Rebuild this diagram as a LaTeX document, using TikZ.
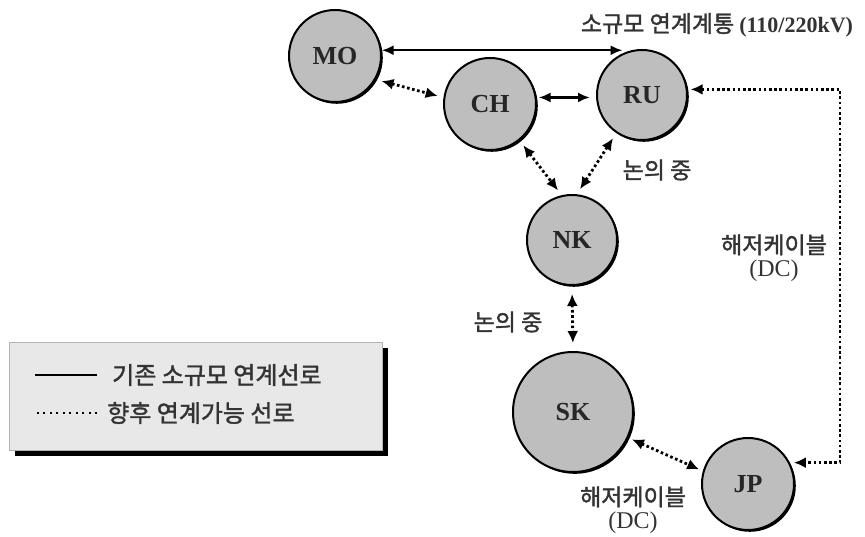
\documentclass[tikz,border=0pt]{standalone}
\usepackage{fontspec}
\setmainfont{Liberation Serif}
\newfontfamily\kr[FakeBold=1.6]{Noto Sans CJK KR}
\usetikzlibrary{arrows.meta, shadows, positioning}

\definecolor{disk}{HTML}{BEBEBE}
\definecolor{panel}{HTML}{E8E8E8}
\definecolor{ink}{HTML}{333333}

\begin{document}
\begin{tikzpicture}[x=1pt, y=-1pt]
    \tikzset{
        nation/.style = {circle, draw=black, fill=disk, line width=2pt, inner sep=0pt, minimum size=92pt,
            font=\fontsize{26}{28}\selectfont\bfseries, text=black!85,
            drop shadow={shadow xshift=1.8pt, shadow yshift=-1.8pt, fill=black, opacity=1}},
        line/.style = {draw=black, line width=2.4pt, {Latex[length=12pt,width=10pt]}-{Latex[length=12pt,width=10pt]}},
        future/.style = {draw=black, line width=2.8pt, dash pattern=on 2.6pt off 2.6pt,
            {Latex[length=12pt,width=11pt]}-{Latex[length=12pt,width=11pt]}, shorten <=6pt, shorten >=6pt},
        note/.style = {text=ink, font=\kr\fontsize{23}{23}\selectfont, align=center, inner sep=0pt},
        legendbox/.style = {rectangle, draw=black!30, fill=panel, minimum width=373pt, minimum height=108pt,
            drop shadow={shadow xshift=6pt, shadow yshift=-6pt, fill=black, opacity=1}},
        keytext/.style = {text=ink, font=\kr\fontsize{24}{26}\selectfont, inner sep=0pt, anchor=west},
    }
    \useasboundingbox (0,0) rectangle (865,537);

    \node[nation](MO) at (335,56){MO};
    \node[nation](CH) at (490,104){CH};
    \node[nation, minimum size=90pt](RU) at (642,95){RU};
    \node[nation, minimum size=90pt](NK) at (572,240){NK};
    \node[nation, minimum size=120pt](SK) at (573,412){SK};
    \node[nation](JP) at (748,484){JP};

    \node[note](title) at (717,25){소규모 연계계통 {\rmfamily\bfseries\fontsize{22}{22}\selectfont(110/220kV)}};
    \node[note](talk1) at (657,170){논의 중};
    \node[note](talk2) at (508,322){논의 중};
    \node[note](cable1) at (774,258){해저케이블\\{\rmfamily\fontsize{24}{24}\selectfont (DC)}};
    \node[note](cable2) at (633,510){해저케이블\\{\rmfamily\fontsize{24}{24}\selectfont (DC)}};
    \coordinate (bend) at (840,300);

    \path [line] (MO.7) -- (MO.7 -| RU.115);
    \path [line, shorten >=6pt, shorten <=2pt] (CH.8) -- (CH.8 -| RU.west);
    \path [future] (MO.-30) -- (CH.172);
    \path [future] (CH.-51) -- (NK.103);
    \path [future] (RU.-124) -- (NK.84);
    \path [future, shorten <=3pt, shorten >=4pt] (RU.7) -| (bend) |- (JP.27);
    \path [future, shorten <=8pt, shorten >=8pt] (NK.south) -- (SK.north);
    \path [future, shorten <=4pt, shorten >=4pt] (SK.-25) -- (JP.164);

    % legend
    \node[legendbox](legend) at (195.5,396){};
    \node[keytext](oldkey) at (112,375){기존 소규모 연계선로};
    \node[keytext](newkey) at (107,413){향후 연계가능 선로};
    \path [draw=black, line width=2.4pt] ([xshift=-15pt]oldkey.west) -- ++(-62,0);
    \path [draw=black, line width=2pt, dash pattern=on 2pt off 4.5pt] ([xshift=-10pt]newkey.west) -- ++(-62,0);

\end{tikzpicture}
\end{document}
